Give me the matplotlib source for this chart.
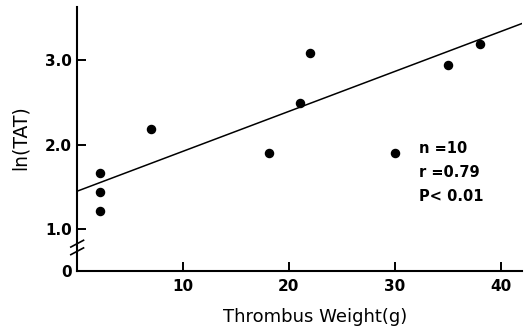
import matplotlib
matplotlib.use('Agg')
import matplotlib.pyplot as plt
import numpy as np

# thrombus weight (g) and ln(TAT)
weight = [2.2, 2.2, 2.2, 7.0, 18.1, 21.0, 22.0, 30.0, 35.0, 38.0]
ln_tat = [1.66, 1.44, 1.21, 2.18, 1.90, 2.49, 3.08, 1.90, 2.94, 3.19]

# regression line end points
fit_x = [0.0, 42.0]
fit_y = [1.45, 3.43]

x_ticks = [10, 20, 30, 40]
y_ticks = [1.0, 2.0, 3.0]
stats = ['n =10', 'r =0.79', 'P< 0.01']

# the axis is broken between 0 and 1.0; 0 is drawn here
y_zero = 0.51


def main():
    plt.rcParams['font.family'] = ['DejaVu Sans']
    fig = plt.figure(figsize=(5.25, 3.31), dpi=100)
    ax = fig.add_axes([0.147, 0.182, 0.847, 0.798])

    ax.scatter(weight, ln_tat, s=34, color='black', zorder=3)
    ax.plot(fit_x, fit_y, color='black', lw=1.1)

    ax.set_xlim(0, 42)
    ax.set_ylim(y_zero, 3.63)
    ax.spines['top'].set_visible(False)
    ax.spines['right'].set_visible(False)
    for s in ['left', 'bottom']:
        ax.spines[s].set_linewidth(1.5)

    ax.set_xticks(x_ticks)
    ax.set_xticklabels([str(t) for t in x_ticks])
    ax.set_yticks([y_zero] + y_ticks)
    ax.set_yticklabels(['0'] + ['%.1f' % t for t in y_ticks])
    ax.tick_params(direction='in', length=6.5, width=1.4, labelsize=11, pad=4)
    ax.tick_params(axis='x', pad=6)
    ax.yaxis.get_major_ticks()[0].tick1line.set_visible(False)
    for lab in ax.get_xticklabels() + ax.get_yticklabels():
        lab.set_fontweight('bold')

    # break marks on the y axis
    for dy in [0.0, 0.09]:
        ax.plot([-0.6, 0.6], [0.70 + dy, 0.78 + dy], color='black', lw=1.2,
                clip_on=False)

    ax.set_xlabel('Thrombus Weight(g)', fontsize=13)
    ax.xaxis.set_label_coords(0.535, -0.14)
    fig.text(0.038, 0.585, 'ln(TAT)', rotation=90, fontsize=13.5,
             ha='center', va='center')

    for i, s in enumerate(stats):
        ax.text(32.3, 1.95 - i * 0.28, s, fontsize=10.5, fontweight='bold',
                va='center')

    plt.savefig('out.png', dpi=100)


if __name__ == '__main__':
    main()
